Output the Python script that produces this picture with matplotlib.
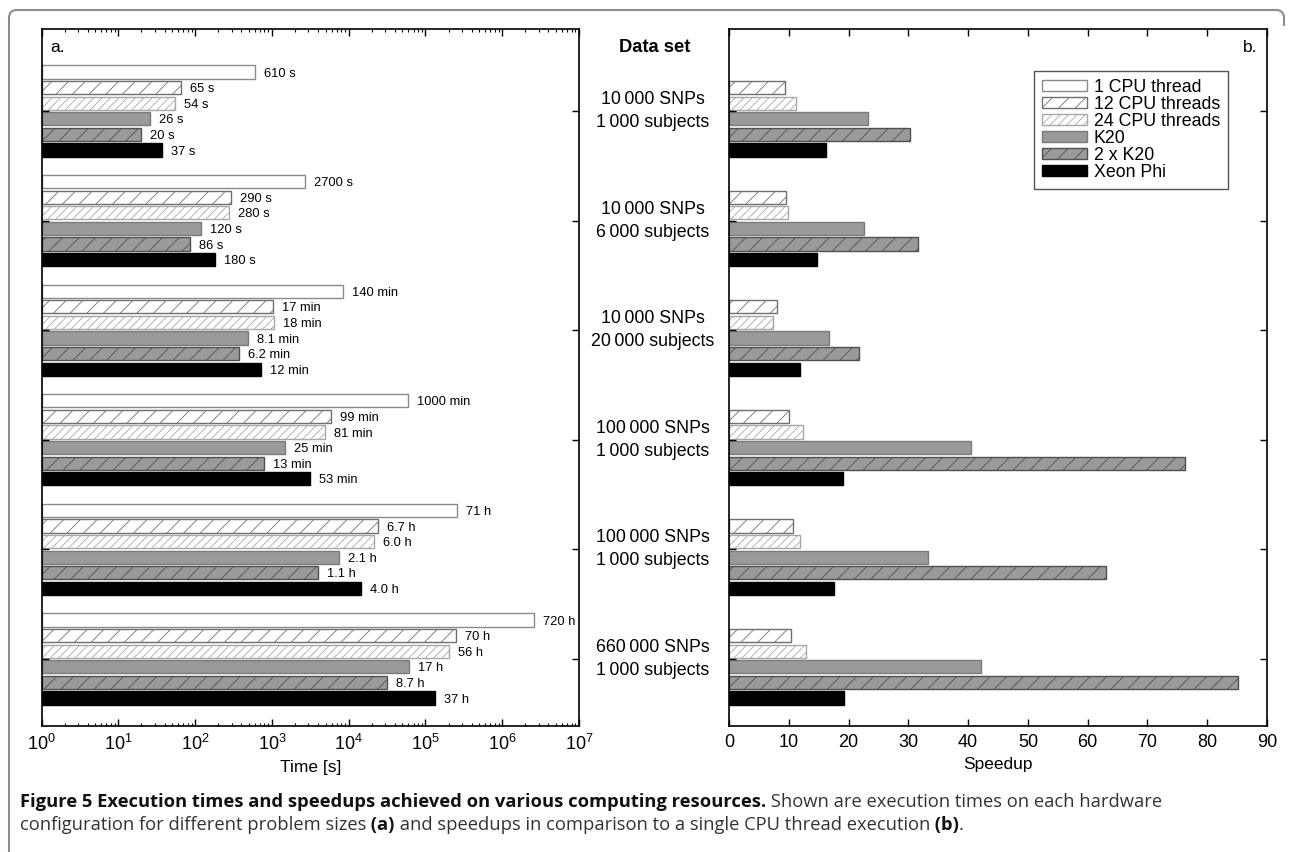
"""
Execution times and speedups, two panels side by side.
"""

import numpy as np
import matplotlib.pyplot as plt
from matplotlib import font_manager
from matplotlib.path import Path
from matplotlib.patches import PathPatch
from matplotlib.transforms import blended_transform_factory

plt.rcParams['font.family'] = ['Liberation Sans', 'DejaVu Sans']
plt.rcParams['mathtext.fontset'] = 'custom'
plt.rcParams['mathtext.rm'] = 'Liberation Sans'
plt.rcParams['mathtext.it'] = 'Liberation Sans:italic'
plt.rcParams['hatch.linewidth'] = 0.6

# data
configs = ['1 CPU thread', '12 CPU threads', '24 CPU threads', 'K20', '2 x K20', 'Xeon Phi']
datasets = ['10\u2009000 SNPs\n1\u2009000 subjects',
            '10\u2009000 SNPs\n6\u2009000 subjects',
            '10\u2009000 SNPs\n20\u2009000 subjects',
            '100\u2009000 SNPs\n1\u2009000 subjects',
            '100\u2009000 SNPs\n1\u2009000 subjects',
            '660\u2009000 SNPs\n1\u2009000 subjects']

# execution times in the unit printed next to each bar
time_vals = [[610, 65, 54, 26, 20, 37],
             [2700, 290, 280, 120, 86, 180],
             [140, 17, 18, 8.1, 6.2, 12],
             [1000, 99, 81, 25, 13, 53],
             [71, 6.7, 6.0, 2.1, 1.1, 4.0],
             [720, 70, 56, 17, 8.7, 37]]
time_units = ['s', 's', 'min', 'min', 'h', 'h']
time_labels = [['610', '65', '54', '26', '20', '37'],
               ['2700', '290', '280', '120', '86', '180'],
               ['140', '17', '18', '8.1', '6.2', '12'],
               ['1000', '99', '81', '25', '13', '53'],
               ['71', '6.7', '6.0', '2.1', '1.1', '4.0'],
               ['720', '70', '56', '17', '8.7', '37']]
SECONDS = {'s': 1, 'min': 60, 'h': 3600}

# speedups relative to 1 CPU thread
speedups = [[1, 9.3, 11.2, 23.2, 30.2, 16.3],
            [1, 9.5, 9.8, 22.5, 31.7, 14.8],
            [1, 8.0, 7.3, 16.7, 21.7, 11.8],
            [1, 10.0, 12.3, 40.5, 76.2, 19.0],
            [1, 10.7, 11.8, 33.3, 63.0, 17.5],
            [1, 10.3, 12.8, 42.2, 85.2, 19.3]]

# styles: face, edge, hatch
STYLES = [('white', '#8a8a8a', None),
          ('white', '#707070', '//'),
          ('white', '#a8a8a8', '////'),
          ('#9a9a9a', '#7a7a7a', None),
          ('#9a9a9a', '#505050', '//'),
          ('black', 'black', None)]

PITCH = 0.1423
HEIGHT = 0.12

W, H = 1292, 852
fig = plt.figure(figsize=(W / 100, H / 100), dpi=100)

ax1 = fig.add_axes([41.5 / W, 1 - 726 / H, (579 - 41.5) / W, (726 - 29) / H])
ax2 = fig.add_axes([729 / W, 1 - 726 / H, (1267 - 729) / W, (726 - 29) / H])

times = np.array(time_vals, dtype=float) * np.array([SECONDS[u] for u in time_units])[:, None]
spd = np.array(speedups)
groups = np.arange(len(datasets))

for j in range(len(configs)):
    face, edge, hatch = STYLES[j]
    y = groups + (j - 2.5) * PITCH
    ax1.barh(y, times[:, j] - 1, left=1, height=HEIGHT, color=face, edgecolor=edge,
             hatch=hatch, linewidth=1.0, label=configs[j])
    for g in groups:
        ax1.annotate(f'{time_labels[g][j]} {time_units[g]}', xy=(times[g, j], y[g]),
                     xytext=(6.5, -1.2), textcoords='offset points', va='center',
                     ha='left', fontsize=9.3)
    if j == 0:
        ax2.barh(y, spd[:, j], height=HEIGHT, color='white', linewidth=0)
    else:
        ax2.barh(y, spd[:, j], height=HEIGHT, color=face, edgecolor=edge,
                 hatch=hatch, linewidth=1.0)

# left panel: log time axis
ax1.set_xscale('log')
ax1.set_xlim(1, 1e7)
ax1.set_xticks([10.0 ** k for k in range(8)])
ax1.set_xticklabels([f'$10^{{{k}}}$' for k in range(8)])
ax1.set_xlabel('Time [s]', fontsize=12.5, labelpad=4)

# right panel: speedup
ax2.set_xlim(0, 90)
ax2.set_xticks(np.arange(0, 91, 10))
ax2.set_xlabel('Speedup', fontsize=12.5, labelpad=4)

for ax in (ax1, ax2):
    ax.set_ylim(5.611, -0.748)
    ax.set_yticks(groups)
    ax.set_yticklabels([])
    ax.tick_params(axis='both', which='major', direction='in', length=5, width=1,
                   top=True, right=True, labelsize=13, pad=6)
    ax.tick_params(axis='x', which='minor', direction='in', length=2.5, width=0.8,
                   top=True)
    for s in ax.spines.values():
        s.set_linewidth(1.2)

handles, labels = ax1.get_legend_handles_labels()
leg = ax2.legend(handles, labels, loc='upper right', bbox_to_anchor=(0.9275, 0.94),
                 fontsize=12.8, frameon=True, fancybox=False, edgecolor='#555555',
                 framealpha=1, labelspacing=0.0, handlelength=2.5, handleheight=0.62,
                 handletextpad=0.4, borderpad=0.45, borderaxespad=0)
leg.get_frame().set_linewidth(1.0)

# labels between the panels
tr = blended_transform_factory(fig.transFigure, ax1.transData)
for g, name in zip(groups, datasets):
    ax1.text(653 / W, g, name, transform=tr, ha='center', va='center',
             multialignment='center', fontsize=12.8, linespacing=1.45)
fig.text(655 / W, 1 - 47 / H, 'Data set', ha='center', va='center',
         fontsize=13.2, fontweight='bold')
fig.text(50 / W, 1 - 47 / H, 'a.', ha='left', va='center', fontsize=12.5)
fig.text(1257 / W, 1 - 47 / H, 'b.', ha='right', va='center', fontsize=12.5)

# caption, bold and regular pieces chained left to right
installed = {f.name for f in font_manager.fontManager.ttflist}
if 'Liberation Sans Narrow' in installed:
    CAP, CAP_SIZE = ['Liberation Sans Narrow', 'DejaVu Sans'], 12.3
else:
    CAP, CAP_SIZE = ['Open Sans', 'DejaVu Sans'], 10.5 * 1145 / 907

line1 = [('Figure 5 Execution times and speedups achieved on various computing resources.', 'bold'),
         (' Shown are execution times on each hardware', 'normal')]
line2 = [('configuration for different problem sizes', 'normal'), (' (a)', 'bold'),
         (' and speedups in comparison to a single CPU thread execution', 'normal'),
         (' (b)', 'bold'), ('.', 'normal')]
for base, parts in ((811, line1), (834, line2)):
    prev = None
    for i, (txt, wt) in enumerate(parts):
        col = '#111111' if wt == 'bold' else '#333333'
        if i == 0:
            prev = fig.text(20 / W, 1 - base / H, txt, fontsize=CAP_SIZE, fontweight=wt,
                            family=CAP, va='bottom', color=col)
        else:
            prev = fig.add_artist(plt.Annotation(txt, xy=(1, 0), xycoords=prev, va='bottom',
                                                 ha='left', fontsize=CAP_SIZE, fontweight=wt,
                                                 family=CAP, color=col))

# outer rounded frame (top and left side)
x0, x1, yt, r = 9 / W, 1284 / W, 1 - 10 / H, 8
rx, ry = r / W, r / H
verts = [(x0, 0), (x0, yt - ry), (x0, yt), (x0 + rx, yt), (x1 - rx, yt), (x1, yt), (x1, yt - ry),
         (x1, yt - 2 * ry)]
codes = [Path.MOVETO, Path.LINETO, Path.CURVE3, Path.CURVE3, Path.LINETO, Path.CURVE3, Path.CURVE3,
         Path.LINETO]
fig.add_artist(PathPatch(Path(verts, codes), transform=fig.transFigure, fill=False,
                         edgecolor='#8c8c8c', linewidth=1.5))

fig.savefig('out.png', dpi=100)
